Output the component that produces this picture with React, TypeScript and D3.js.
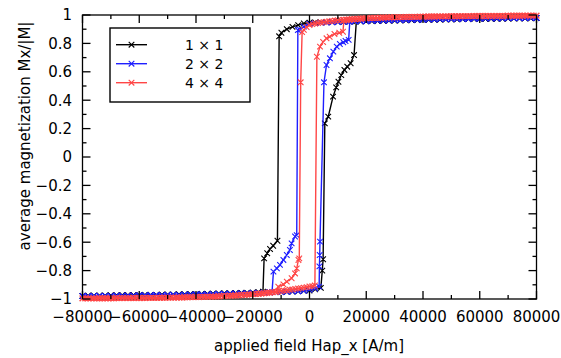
import React from "react";
import * as d3 from "d3";

type Pt = [number, number]; // [applied field in kA/m, Mx/|M|]

const fieldTicks = [-80000, -60000, -40000, -20000, 0, 20000, 40000, 60000, 80000];
const magTicks = [-1, -0.8, -0.6, -0.4, -0.2, 0, 0.2, 0.4, 0.6, 0.8, 1];
const seriesLabels = ["1 × 1", "2 × 2", "4 × 4"];
const seriesColors = ["#000000", "#1f1fff", "#ff4646"];

// 1x1 : field sweep down (+80k -> -80k) and up (-80k -> +80k)
const down1x1: Pt[] = [
  [80, .978], [78, .977], [76, .977], [74, .976], [72, .976], [70, .975], [68, .975], [66, .974], [64, .974], [62, .973],
  [60, .973], [58, .972], [56, .971], [54, .971], [52, .970], [50, .969], [48, .969], [46, .968], [44, .967], [42, .966],
  [40, .966], [38, .965], [36, .964], [34, .963], [32, .962], [30, .961], [28, .960], [26, .959], [24, .958], [22, .957],
  [20, .956], [18, .955], [16, .954], [14, .953], [12, .952], [10, .951], [8, .950], [6, .949], [4, .948], [2, .947],
  [0, .946], [-2, .940], [-4, .929], [-6, .916], [-8, .900], [-9.9, .875], [-10.7, .850], [-11.3, -.590], [-12.8, -.625],
  [-13.9, -.648], [-14.9, -.678], [-16.0, -.714], [-16.4, -.948], [-18, -.952], [-20, -.955], [-22, -.957], [-24, -.958],
  [-26, -.959], [-28, -.960], [-30, -.961], [-32, -.962], [-34, -.963], [-36, -.964], [-38, -.965], [-40, -.966],
  [-42, -.966], [-44, -.967], [-46, -.968], [-48, -.969], [-50, -.969], [-52, -.970], [-54, -.971], [-56, -.971],
  [-58, -.972], [-60, -.973], [-62, -.973], [-64, -.974], [-66, -.974], [-68, -.975], [-70, -.975], [-72, -.976],
  [-74, -.976], [-76, -.977], [-78, -.977], [-80, -.978],
];
const up1x1: Pt[] = [
  [-80, -.978], [-78, -.977], [-76, -.977], [-74, -.976], [-72, -.976], [-70, -.975], [-68, -.975], [-66, -.974],
  [-64, -.974], [-62, -.973], [-60, -.973], [-58, -.972], [-56, -.971], [-54, -.971], [-52, -.970], [-50, -.969],
  [-48, -.969], [-46, -.968], [-44, -.967], [-42, -.966], [-40, -.966], [-38, -.965], [-36, -.964], [-34, -.963],
  [-32, -.962], [-30, -.961], [-28, -.960], [-26, -.959], [-24, -.958], [-22, -.957], [-20, -.956], [-18, -.955],
  [-16, -.954], [-14, -.953], [-12, -.952], [-10, -.951], [-8, -.950], [-6, -.948], [-4, -.946], [-2, -.943],
  [0, -.940], [2, -.932], [4, -.922], [4.5, -.800], [4.8, -.720], [5.4, .237], [6.6, .284], [8.3, .425], [9.4, .490],
  [10.2, .530], [11.2, .577], [12.3, .613], [13.3, .636], [14.5, .660], [15.7, .718], [16.5, .955], [18, .956],
  [20, .957], [22, .958], [24, .959], [26, .960], [28, .961], [30, .962], [32, .963], [34, .964], [36, .965], [38, .966],
  [40, .966], [42, .967], [44, .968], [46, .969], [48, .969], [50, .970], [52, .971], [54, .971], [56, .972], [58, .973],
  [60, .973], [62, .974], [64, .974], [66, .975], [68, .975], [70, .976], [72, .976], [74, .977], [76, .977], [78, .978],
  [80, .978],
];

// 2x2
const down2x2: Pt[] = [
  [80, .980], [78, .980], [76, .979], [74, .979], [72, .978], [70, .978], [68, .977], [66, .977], [64, .976], [62, .976],
  [60, .975], [58, .975], [56, .974], [54, .973], [52, .973], [50, .972], [48, .971], [46, .971], [44, .970], [42, .969],
  [40, .968], [38, .967], [36, .967], [34, .966], [32, .965], [30, .964], [28, .963], [26, .962], [24, .961], [22, .960],
  [20, .958], [18, .957], [16, .955], [14, .954], [12, .952], [10, .951], [8, .949], [6, .947], [4, .945], [2, .942],
  [0, .938], [-2, .918], [-3.4, .897], [-4.1, .894], [-4.5, -.550], [-5.1, -.560], [-6.3, -.608], [-6.9, -.655],
  [-8.0, -.690], [-9.2, -.725], [-10.4, -.760], [-11.5, -.784], [-12.7, -.807], [-13.2, -.950], [-14, -.953],
  [-16, -.955], [-18, -.957], [-20, -.958], [-22, -.960], [-24, -.961], [-26, -.962], [-28, -.963], [-30, -.964],
  [-32, -.965], [-34, -.966], [-36, -.967], [-38, -.967], [-40, -.968], [-42, -.969], [-44, -.970], [-46, -.971],
  [-48, -.971], [-50, -.972], [-52, -.973], [-54, -.973], [-56, -.974], [-58, -.975], [-60, -.975], [-62, -.976],
  [-64, -.976], [-66, -.977], [-68, -.977], [-70, -.978], [-72, -.978], [-74, -.979], [-76, -.979], [-78, -.980],
  [-80, -.980],
];
const up2x2: Pt[] = [
  [-80, -.980], [-78, -.980], [-76, -.979], [-74, -.979], [-72, -.978], [-70, -.978], [-68, -.977], [-66, -.977],
  [-64, -.976], [-62, -.976], [-60, -.975], [-58, -.975], [-56, -.974], [-54, -.973], [-52, -.973], [-50, -.972],
  [-48, -.971], [-46, -.971], [-44, -.970], [-42, -.969], [-40, -.968], [-38, -.967], [-36, -.967], [-34, -.966],
  [-32, -.965], [-30, -.964], [-28, -.963], [-26, -.962], [-24, -.961], [-22, -.960], [-20, -.958], [-18, -.957],
  [-16, -.955], [-14, -.954], [-12, -.952], [-10, -.951], [-8, -.949], [-6, -.947], [-4, -.945], [-2, -.942],
  [0, -.936], [2, -.926], [3.4, -.913], [3.5, -.770], [3.6, -.690], [3.7, -.596], [5.1, .526], [6.0, .648],
  [7.2, .695], [8.4, .742], [9.6, .777], [10.7, .796], [11.9, .808], [12.7, .817], [13.8, .825], [14.2, .953],
  [16, .955], [18, .957], [20, .958], [22, .960], [24, .961], [26, .962], [28, .963], [30, .964], [32, .965],
  [34, .966], [36, .967], [38, .967], [40, .968], [42, .969], [44, .970], [46, .971], [48, .971], [50, .972],
  [52, .973], [54, .973], [56, .974], [58, .975], [60, .975], [62, .976], [64, .976], [66, .977], [68, .977],
  [70, .978], [72, .978], [74, .979], [76, .979], [78, .980], [80, .980],
];

// 4x4 (finer sweep, the saturated tails read as a solid band)
const down4x4: Pt[] = [
  [80, .996], [79, .996], [78, .996], [77, .996], [76, .996], [75, .995], [74, .995], [73, .995], [72, .995], [71, .995],
  [70, .995], [69, .994], [68, .994], [67, .994], [66, .994], [65, .994], [64, .994], [63, .993], [62, .993], [61, .993],
  [60, .993], [59, .993], [58, .993], [57, .992], [56, .992], [55, .992], [54, .992], [53, .991], [52, .991], [51, .991],
  [50, .991], [49, .990], [48, .990], [47, .990], [46, .990], [45, .989], [44, .989], [43, .989], [42, .989], [41, .988],
  [40, .988], [39, .988], [38, .987], [37, .987], [36, .987], [35, .986], [34, .986], [33, .985], [32, .985], [31, .984],
  [30, .984], [29, .983], [28, .983], [27, .982], [26, .982], [25, .981], [24, .980], [23, .979], [22, .979], [21, .978],
  [20, .977], [19, .976], [18, .975], [17, .974], [16, .973], [15, .972], [14, .970], [13, .969], [12, .967], [11, .965],
  [10, .963], [9, .961], [8, .958], [7, .956], [6, .953], [5, .950], [4, .947], [3, .944], [2, .940], [1, .936],
  [0, .930], [-1, .915], [-2, .895], [-2.6, .880], [-3.1, .526], [-3.6, -.714], [-3.9, -.725], [-4.5, -.784],
  [-5.1, -.820], [-6.3, -.854], [-8.0, -.878], [-9.2, -.897], [-11.0, -.913], [-11.8, -.950], [-13, -.953],
  [-14, -.956], [-15, -.958], [-16, -.960], [-17, -.962], [-18, -.963], [-19, -.965], [-20, -.966], [-21, -.968],
  [-22, -.969], [-23, -.971], [-24, -.972], [-25, -.974], [-26, -.975], [-27, -.976], [-28, -.977], [-29, -.978],
  [-30, -.979], [-31, -.980], [-32, -.981], [-33, -.982], [-34, -.983], [-35, -.983], [-36, -.984], [-37, -.985],
  [-38, -.985], [-39, -.986], [-40, -.986], [-41, -.987], [-42, -.987], [-43, -.988], [-44, -.988], [-45, -.989],
  [-46, -.989], [-47, -.990], [-48, -.990], [-49, -.990], [-50, -.990], [-51, -.991], [-52, -.991], [-53, -.991],
  [-54, -.992], [-55, -.992], [-56, -.992], [-57, -.992], [-58, -.993], [-59, -.993], [-60, -.993], [-61, -.993],
  [-62, -.993], [-63, -.994], [-64, -.994], [-65, -.994], [-66, -.994], [-67, -.994], [-68, -.994], [-69, -.995],
  [-70, -.995], [-71, -.995], [-72, -.995], [-73, -.995], [-74, -.995], [-75, -.996], [-76, -.996], [-77, -.996],
  [-78, -.996], [-79, -.996], [-80, -.996],
];
const up4x4: Pt[] = [
  [-80, -.996], [-79, -.996], [-78, -.996], [-77, -.996], [-76, -.996], [-75, -.996], [-74, -.995], [-73, -.995],
  [-72, -.995], [-71, -.995], [-70, -.995], [-69, -.995], [-68, -.994], [-67, -.994], [-66, -.994], [-65, -.994],
  [-64, -.994], [-63, -.994], [-62, -.993], [-61, -.993], [-60, -.993], [-59, -.993], [-58, -.993], [-57, -.992],
  [-56, -.992], [-55, -.992], [-54, -.992], [-53, -.991], [-52, -.991], [-51, -.991], [-50, -.990], [-49, -.990],
  [-48, -.990], [-47, -.989], [-46, -.989], [-45, -.989], [-44, -.988], [-43, -.988], [-42, -.987], [-41, -.987],
  [-40, -.986], [-39, -.986], [-38, -.985], [-37, -.985], [-36, -.984], [-35, -.983], [-34, -.983], [-33, -.982],
  [-32, -.981], [-31, -.980], [-30, -.979], [-29, -.978], [-28, -.977], [-27, -.976], [-26, -.975], [-25, -.974],
  [-24, -.972], [-23, -.971], [-22, -.969], [-21, -.968], [-20, -.966], [-19, -.965], [-18, -.963], [-17, -.961],
  [-16, -.958], [-15, -.956], [-14, -.954], [-13, -.952], [-12, -.950], [-11, -.947], [-10, -.944], [-9, -.941],
  [-8, -.938], [-7, -.935], [-6, -.932], [-5, -.929], [-4, -.926], [-3, -.923], [-2, -.920], [-1, -.916],
  [0, -.912], [1, -.909], [1.9, -.905], [2.6, .706], [3.7, .777], [4.8, .810], [6.0, .836], [7.1, .847], [8.8, .866],
  [10.5, .875], [11.8, .882], [12.1, .960], [13, .963], [14, .966], [15, .968], [16, .970], [17, .972], [18, .973],
  [19, .975], [20, .977], [21, .978], [22, .979], [23, .979], [24, .980], [25, .981], [26, .982], [27, .982],
  [28, .983], [29, .983], [30, .984], [31, .984], [32, .985], [33, .985], [34, .986], [35, .986], [36, .987],
  [37, .987], [38, .987], [39, .988], [40, .988], [41, .988], [42, .989], [43, .989], [44, .989], [45, .989],
  [46, .990], [47, .990], [48, .990], [49, .990], [50, .991], [51, .991], [52, .991], [53, .991], [54, .992],
  [55, .992], [56, .992], [57, .992], [58, .993], [59, .993], [60, .993], [61, .993], [62, .993], [63, .993],
  [64, .994], [65, .994], [66, .994], [67, .994], [68, .994], [69, .994], [70, .995], [71, .995], [72, .995],
  [73, .995], [74, .995], [75, .995], [76, .996], [77, .996], [78, .996], [79, .996], [80, .996],
];

const seriesData: Pt[][][] = [
  [down1x1, up1x1],
  [down2x2, up2x2],
  [down4x4, up4x4],
];

const FONT = "'DejaVu Sans', sans-serif";

const cross = (cx: number, cy: number, r: number) =>
  `M${cx - r},${cy - r}L${cx + r},${cy + r}M${cx - r},${cy + r}L${cx + r},${cy - r}`;

const fmt = (v: number) => (v < 0 ? "\u2212" : "") + String(Math.abs(v));

export default function App() {
  const width = 561;
  const height = 358;
  const plot = { left: 82.5, right: 536.5, top: 15, bottom: 299 };

  const x = d3.scaleLinear().domain([-80000, 80000]).range([plot.left, plot.right]);
  const y = d3.scaleLinear().domain([-1, 1]).range([plot.bottom, plot.top]);

  const line = d3.line<Pt>()
    .x((d) => x(d[0] * 1000))
    .y((d) => y(d[1]));

  const minorX = x.ticks(16).filter((t) => !fieldTicks.includes(t));
  const minorY = y.ticks(20).filter((t) => Math.abs(t * 5 - Math.round(t * 5)) > 1e-6);

  const majorLen = 8;
  const minorLen = 4;

  return (
    <svg
      width={width}
      height={height}
      style={{ position: "absolute", left: 0, top: 0, background: "#fff" }}
      fontFamily={FONT}
    >
      <rect x={0} y={0} width={width} height={height} fill="#fff" />

      {/* border */}
      <rect
        x={plot.left}
        y={plot.top}
        width={plot.right - plot.left}
        height={plot.bottom - plot.top}
        fill="none"
        stroke="#000"
        strokeWidth={1.3}
      />

      {/* data */}
      {seriesData.map((branches, i) => (
        <g key={i} stroke={seriesColors[i]} fill="none">
          {branches.map((pts, j) => (
            <g key={j}>
              <path d={line(pts) || ""} strokeWidth={1.4} />
              <path
                d={pts.map((d) => cross(x(d[0] * 1000), y(d[1]), 2.8)).join("")}
                strokeWidth={1.1}
              />
            </g>
          ))}
        </g>
      ))}

      {/* ticks */}
      <g stroke="#000" strokeWidth={1.3}>
        {fieldTicks.map((t) => (
          <g key={`fx${t}`}>
            <line x1={x(t)} x2={x(t)} y1={plot.bottom} y2={plot.bottom - majorLen} />
            <line x1={x(t)} x2={x(t)} y1={plot.top} y2={plot.top + majorLen} />
          </g>
        ))}
        {minorX.map((t) => (
          <g key={`mx${t}`}>
            <line x1={x(t)} x2={x(t)} y1={plot.bottom} y2={plot.bottom - minorLen} />
            <line x1={x(t)} x2={x(t)} y1={plot.top} y2={plot.top + minorLen} />
          </g>
        ))}
        {magTicks.map((t) => (
          <g key={`fy${t}`}>
            <line x1={plot.left} x2={plot.left + majorLen} y1={y(t)} y2={y(t)} />
            <line x1={plot.right} x2={plot.right - majorLen} y1={y(t)} y2={y(t)} />
          </g>
        ))}
        {minorY.map((t) => (
          <g key={`my${t}`}>
            <line x1={plot.left} x2={plot.left + minorLen} y1={y(t)} y2={y(t)} />
            <line x1={plot.right} x2={plot.right - minorLen} y1={y(t)} y2={y(t)} />
          </g>
        ))}
      </g>

      {/* tick labels */}
      <g fontSize={15} fill="#000">
        {fieldTicks.map((t) => (
          <text key={`lx${t}`} x={x(t)} y={321.5} textAnchor="middle">
            {fmt(t)}
          </text>
        ))}
        {magTicks.map((t) => (
          <text key={`ly${t}`} x={72} y={y(t)} dy="0.36em" textAnchor="end">
            {fmt(t)}
          </text>
        ))}
      </g>

      {/* axis titles */}
      <text x={309} y={351} textAnchor="middle" fontSize={15}>
        applied field Hap_x [A/m]
      </text>
      <text
        transform={`translate(30,136) rotate(-90)`}
        textAnchor="middle"
        fontSize={15}
      >
        average magnetization Mx/|M|
      </text>

      {/* legend */}
      <g>
        <rect x={110} y={28} width={140} height={74} fill="#fff" stroke="#000" strokeWidth={1.4} />
        {seriesLabels.map((label, i) => {
          const ly = 44.7 + i * 19;
          return (
            <g key={label}>
              <line x1={116} x2={147} y1={ly} y2={ly} stroke={seriesColors[i]} strokeWidth={1.4} />
              <path d={cross(131.5, ly, 2.8)} stroke={seriesColors[i]} strokeWidth={1.1} fill="none" />
              <text x={185} y={ly} dy="0.36em" fontSize={14} fill="#000">
                {label}
              </text>
            </g>
          );
        })}
      </g>
    </svg>
  );
}
